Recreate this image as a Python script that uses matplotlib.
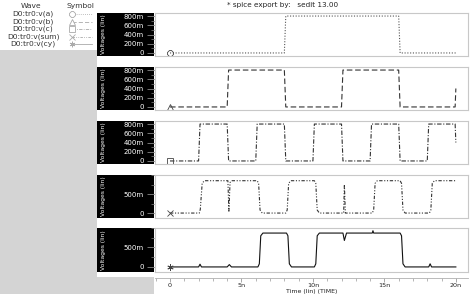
import matplotlib
matplotlib.use("Agg")
import matplotlib.pyplot as plt
from matplotlib.patches import Rectangle
from matplotlib.ticker import MultipleLocator, FixedLocator

# waveform breakpoints (time in ns, volts)
t_a = [0, 8.0, 8.1, 16.0, 16.1, 20.0]
v_a = [0, 0, 0.8, 0.8, 0, 0]

t_b = [0, 4.0, 4.1, 8.0, 8.1, 12.0, 12.1, 16.0, 16.1, 19.95, 20.0]
v_b = [0, 0, 0.8, 0.8, 0, 0, 0.8, 0.8, 0, 0, 0.4]

t_c = [0, 2.0, 2.1, 4.0, 4.1, 6.0, 6.1, 8.0, 8.1, 10.0, 10.1,
       12.0, 12.1, 14.0, 14.1, 16.0, 16.1, 18.0, 18.1, 19.95, 20.0]
v_c = [0, 0, 0.8, 0.8, 0, 0, 0.8, 0.8, 0, 0, 0.8,
       0.8, 0, 0, 0.8, 0.8, 0, 0, 0.8, 0.8, 0.4]

t_sum = [0, 2.05, 2.12, 2.25, 2.4, 4.05, 4.12, 4.2, 4.3, 6.1, 6.2, 6.3, 6.45,
         8.1, 8.2, 8.3, 8.45, 10.1, 10.2, 10.3, 10.45, 12.15, 12.2, 12.27,
         14.15, 14.25, 14.35, 14.5, 16.1, 16.2, 16.3, 16.45,
         18.15, 18.25, 18.35, 18.5, 20.0]
v_sum = [0, 0, 0.1, 0.78, 0.85, 0.85, 0.05, 0.8, 0.85, 0.85, 0.78, 0.08, 0,
         0, 0.08, 0.78, 0.85, 0.85, 0.78, 0.08, 0, 0, 0.75, 0,
         0, 0.08, 0.78, 0.85, 0.85, 0.78, 0.08, 0,
         0, 0.08, 0.78, 0.85, 0.85]

t_cy = [0, 2.0, 2.1, 2.2, 4.0, 4.15, 4.3, 6.15, 6.25, 6.35, 6.5,
        8.15, 8.25, 8.35, 8.5, 10.1, 10.2, 10.3, 10.45, 12.1, 12.2, 12.35,
        14.15, 14.2, 14.25, 16.1, 16.2, 16.3, 16.45, 18.1, 18.2, 18.3, 20.0]
v_cy = [0, 0, 0.07, 0, 0, 0.06, 0, 0, 0.08, 0.8, 0.87,
        0.87, 0.8, 0.08, 0, 0, 0.08, 0.8, 0.87, 0.87, 0.68, 0.87,
        0.87, 0.93, 0.87, 0.87, 0.8, 0.08, 0, 0, 0.08, 0, 0]

wave_names = ["D0:tr0:v(a)", "D0:tr0:v(b)", "D0:tr0:v(c)", "D0:tr0:v(sum)", "D0:tr0:v(cy)"]
x_ticks = [0, 5, 10, 15, 20]
x_labels = ["0", "5n", "10n", "15n", "20n"]
y_ticks_small = [0, 0.2, 0.4, 0.6, 0.8]
y_labels_small = ["0", "200m", "400m", "600m", "800m"]
y_ticks_big = [0, 0.5]
y_labels_big = ["0", "500m"]

W, H = 472, 294
fig = plt.figure(figsize=(W / 100, H / 100), dpi=100)
plt.rcParams["font.family"] = "DejaVu Sans"


def box(x0, y0, x1, y1):
    # pixel box (top-left origin) -> figure rect
    return [x0 / W, 1 - y1 / H, (x1 - x0) / W, (y1 - y0) / H]


def rect(x0, y0, x1, y1, color):
    b = box(x0, y0, x1, y1)
    fig.patches.append(Rectangle((b[0], b[1]), b[2], b[3], transform=fig.transFigure,
                                 facecolor=color, edgecolor="none", zorder=-5))


gray = "#d4d4d4"
rect(0, 50, 97, H, gray)
rect(97, 277, 154, H, gray)

series = [
    (t_a, v_a, (0, (1, 1.5)), "8", "#555555"),
    (t_b, v_b, (0, (5, 2.5)), "^", "#333333"),
    (t_c, v_c, (0, (4, 1.5, 1, 1.5)), "s", "#333333"),
    (t_sum, v_sum, (0, (3, 1.5, 1, 1.5, 1, 1.5)), "x", "#333333"),
    (t_cy, v_cy, "-", (6, 2, 0), "#111111"),
]
panels = [(13, 56), (67, 110), (121, 164), (175, 218), (228, 272)]
xlim = (-1.05, 20.85)

for i, (t, v, ls, mk, col) in enumerate(series):
    y0, y1 = panels[i]
    rect(97, y0, 154, y1, "black")
    ax = fig.add_axes(box(155, y0, 468, y1))
    ax.plot(t, v, color=col, lw=0.8, ls=ls)
    ax.plot([t[0]], [v[0]], marker=mk, ms=4.5, mfc="none", mec="#444444", mew=0.6)
    ax.set_xlim(*xlim)
    if i < 3:
        ax.set_ylim(-0.066, 0.866)
        ax.yaxis.set_major_locator(FixedLocator(y_ticks_small))
        ax.set_yticklabels(y_labels_small)
        ax.yaxis.set_minor_locator(MultipleLocator(0.1))
    else:
        ax.set_ylim(-0.13, 1.0)
        ax.yaxis.set_major_locator(FixedLocator(y_ticks_big))
        ax.set_yticklabels(y_labels_big)
        ax.yaxis.set_minor_locator(MultipleLocator(0.25))
    ax.set_xticks([])
    ax.tick_params(axis="y", which="major", length=6, width=0.6, color="#888888",
                   labelcolor="white", labelsize=5, pad=2)
    ax.tick_params(axis="y", which="minor", length=3, width=0.5, color="#888888")
    for s in ax.spines.values():
        s.set_color("#c8c8c8")
        s.set_linewidth(0.8)
    ax.text(104 / W, 1 - (y0 + y1) / 2 / H, "Voltages (lin)", transform=fig.transFigure,
            rotation=90, color="white", fontsize=4.3, ha="center", va="center")

# shared time axis
axx = fig.add_axes(box(155, 270, 468, 278))
axx.set_xlim(*xlim)
axx.patch.set_visible(False)
for k in ["top", "left", "right"]:
    axx.spines[k].set_visible(False)
axx.spines["bottom"].set_color("#b0b0b0")
axx.spines["bottom"].set_linewidth(0.6)
axx.set_yticks([])
axx.set_xticks(x_ticks)
axx.set_xticklabels(x_labels)
axx.xaxis.set_minor_locator(MultipleLocator(1))
axx.tick_params(axis="x", which="major", length=3, width=0.6, color="#999999",
                labelsize=4.6, labelcolor="#222222", pad=0.8)
axx.tick_params(axis="x", which="minor", length=2, width=0.5, color="#999999")
fig.text(312 / W, 1 - 291.2 / H, "Time (lin) (TIME)", fontsize=4.5, color="#222222",
         ha="center", va="center")

fig.text(283 / W, 1 - 5 / H, "* spice export by:   sedit 13.00", fontsize=5.2,
         color="#222222", ha="center", va="center")

# legend table
axl = fig.add_axes(box(0, 0, 97, 50))
axl.set_xlim(0, 97)
axl.set_ylim(50, 0)
axl.axis("off")
axl.text(31, 6, "Wave", fontsize=5.4, color="#333333", ha="center", va="center")
axl.text(80, 6, "Symbol", fontsize=5.4, color="#333333", ha="center", va="center")
row_y = [14, 21.5, 29, 36.5, 44]
for i, (t, v, ls, mk, col) in enumerate(series):
    axl.text(33, row_y[i], wave_names[i], fontsize=5.4, color="#333333",
             ha="center", va="center")
    axl.plot([72, 92], [row_y[i], row_y[i]], color="#aaaaaa", lw=0.6, ls=ls)
    axl.plot([72], [row_y[i]], marker=mk, ms=4, mfc="white", mec="#aaaaaa", mew=0.6)

fig.savefig("out.png", dpi=100)
